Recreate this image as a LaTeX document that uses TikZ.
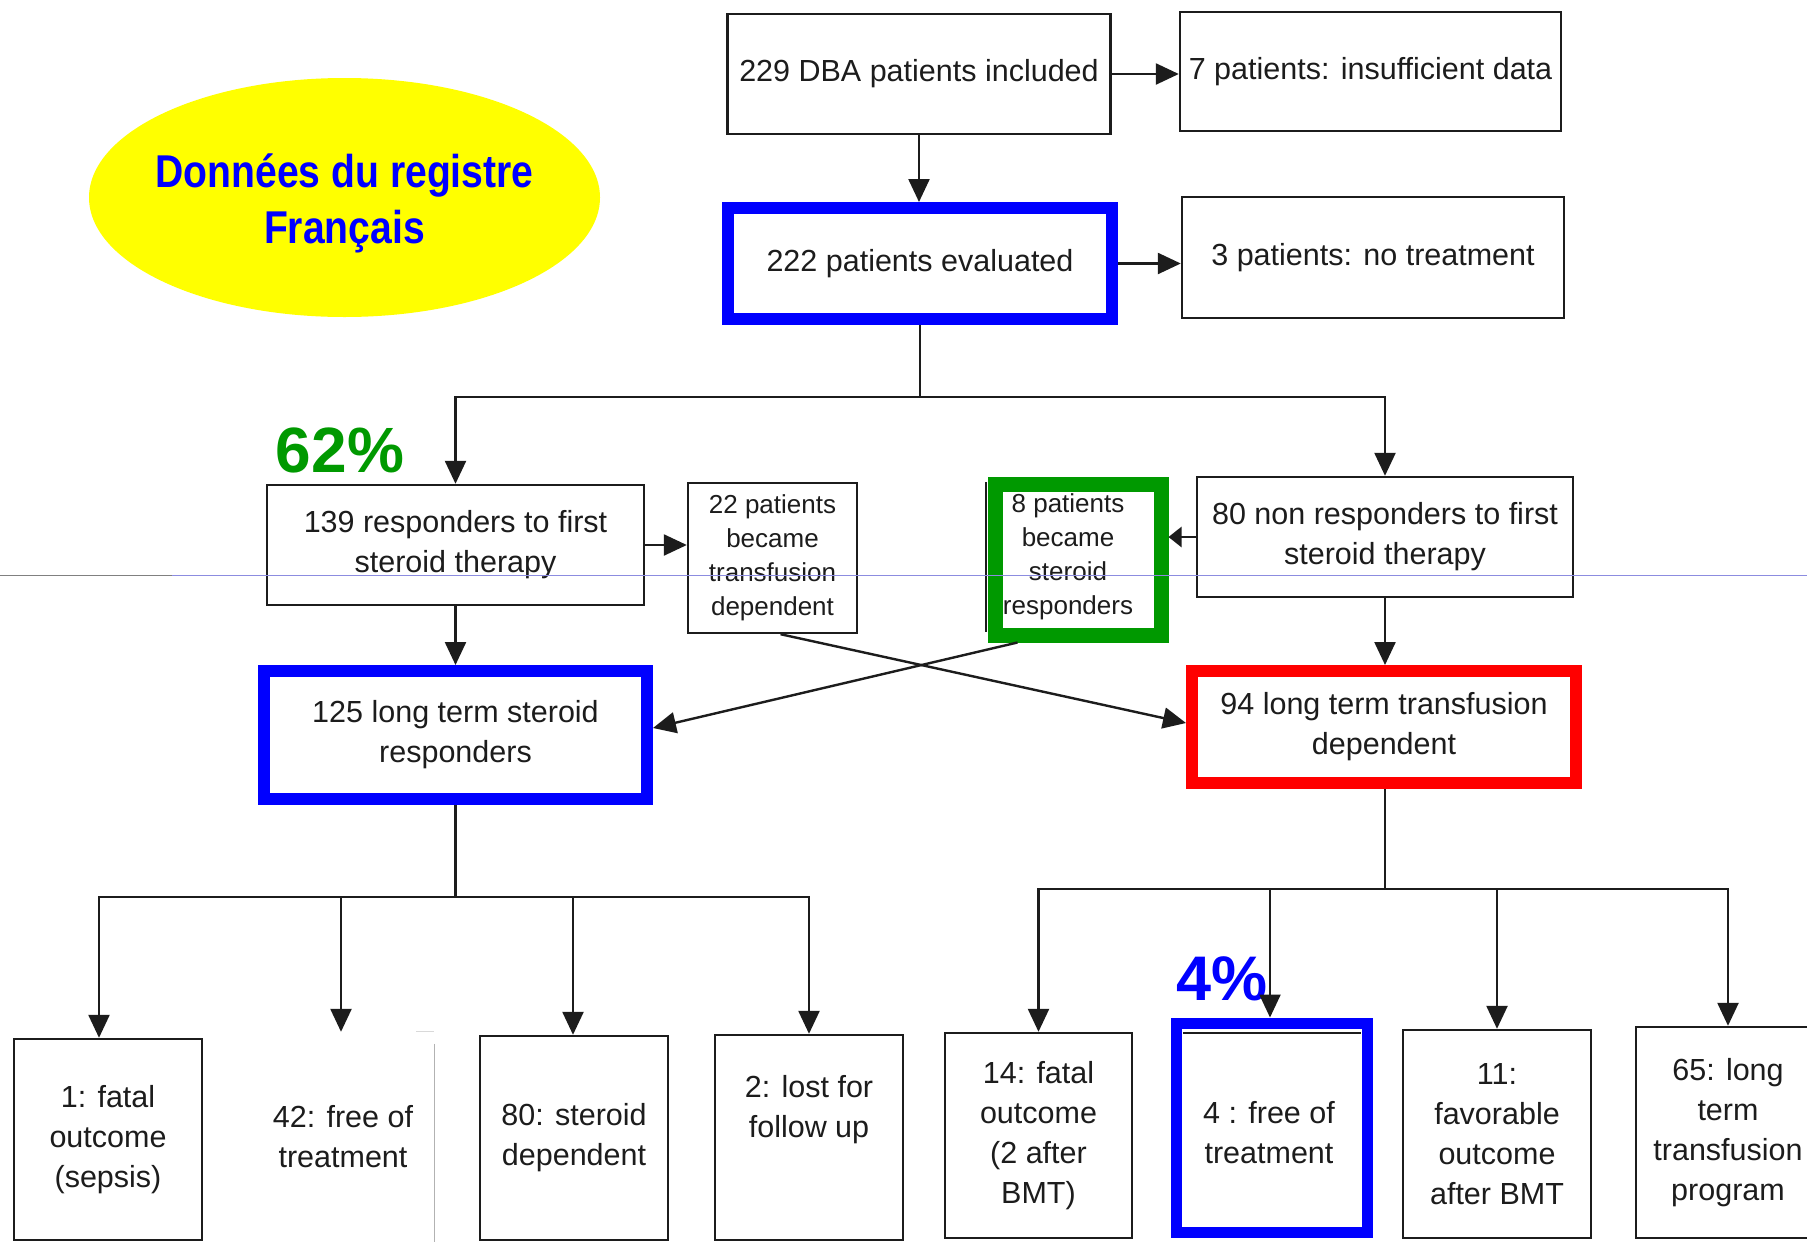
\documentclass[tikz,border=0pt]{standalone}
\usepackage{fontspec}
\setmainfont{Liberation Sans}
\newfontfamily\narrowfont[FakeStretch=0.85]{Liberation Sans}
\usetikzlibrary{arrows.meta,calc,shapes.geometric}
\definecolor{ink}{HTML}{1C1C1C}
\definecolor{bblue}{HTML}{0000FF}
\definecolor{ggreen}{HTML}{009900}
\definecolor{rred}{HTML}{FF0000}
\definecolor{yel}{HTML}{FFFF00}
\definecolor{scanline}{HTML}{8C8CE0}
\begin{document}
\begin{tikzpicture}[x=1pt,y=-1pt,
  box/.style={draw=ink, line width=2.4pt, align=center, inner sep=0pt, text=ink,
    font=\fontsize{30.5}{40}\selectfont},
  smallbox/.style={box, font=\fontsize{26}{34}\selectfont},
  bluebox/.style={draw=bblue, line width=12pt},
  arr/.style={draw=ink, line width=2.4pt, -{Triangle[length=23pt,width=21pt]}},
  shortarr/.style={draw=ink, line width=2.4pt, -{Triangle[length=13pt,width=20pt]}},
  ln/.style={draw=ink, line width=2.4pt},
  pct/.style={anchor=base, font=\bfseries\fontsize{64}{64}\selectfont},
]
\useasboundingbox (0,0) rectangle (1807,1242);
\fill[white] (0,0) rectangle (1807,1242);

% title ellipse
\node[ellipse, fill=yel, draw=none, minimum width=511pt, minimum height=239pt] (ell) at (344.5,197.5) {};
\node[align=center, text=bblue, font=\narrowfont\bfseries\fontsize{46}{56}\selectfont] (title) at (344.5,203) {Donn\'ees du registre\\Fran\c{c}ais};

% top boxes
\node[box, minimum width=383pt, minimum height=120pt] (A) at (919,74) {229 DBA patients included};
\node[box, minimum width=381pt, minimum height=119pt] (B) at (1370.5,71.5) {7 patients: insufficient data};
\node[box, bluebox, minimum width=384pt, minimum height=111pt] (C) at (920,263.5) {222 patients evaluated};
\node[box, minimum width=382pt, minimum height=121pt] (D) at (1373,257.5) {3 patients: no treatment};

% middle
\node[box, minimum width=377pt, minimum height=120pt] (E) at (455.5,545) {139 responders to first\\steroid therapy};
\node[smallbox, minimum width=169pt, minimum height=150pt] (F) at (772.5,558) {22 patients\\became\\transfusion\\dependent};
\draw[ink, line width=2pt] (986,482) -- (986,632);
\node[smallbox, draw=ggreen, line width=15pt, minimum width=166pt, minimum height=151pt] (G) at (1078,559.5) {};
\node[align=center, text=ink, font=\fontsize{26}{34}\selectfont] (Gt) at (1068,557) {8 patients\\became\\steroid\\responders};
\node[box, minimum width=376pt, minimum height=120pt] (H) at (1385,537) {80 non responders to first\\steroid therapy};
\node[box, bluebox, minimum width=383pt, minimum height=128pt] (I) at (455.5,735) {125 long term steroid\\responders};
\node[box, draw=rred, line width=12pt, minimum width=384pt, minimum height=112pt] (J) at (1384,727) {94 long term transfusion\\dependent};

% bottom left
\node[box, minimum width=188pt, minimum height=201pt] (K1) at (108,1139.5) {1: fatal\\outcome\\(sepsis)};
\node[box, draw=none, minimum width=180pt, minimum height=208pt] (K2) at (343,1137) {42: free of\\treatment};
\draw[black!30, line width=1.2pt] ($(K2.north east)+(0,12)$) -- (K2.south east) -- (K2.south west);
\draw[black!15, line width=1pt] ($(K2.north east)+(-18,0)$) -- (K2.north east);
\node[box, minimum width=188pt, minimum height=204pt] (K3) at (574,1138) {80: steroid\\dependent};
\node[box, minimum width=188pt, minimum height=205pt] (K4) at (809,1137.5) {};
\node[align=center, text=ink, font=\fontsize{30.5}{40}\selectfont] (K4t) at (809,1110) {2: lost for\\follow up};

% bottom right
\node[box, minimum width=187pt, minimum height=205pt] (L1) at (1038.5,1135.5) {14: fatal\\outcome\\(2 after\\BMT)};
\draw[ink, line width=2pt] (1183,1033) -- (1361,1033);
\node[box, draw=bblue, line width=11pt, minimum width=191pt, minimum height=209pt] (L2) at (1271.5,1127.5) {};
\node[align=center, text=ink, font=\fontsize{30.5}{40}\selectfont] (L2t) at (1269,1133) {4 : free of\\treatment};
\node[box, minimum width=188pt, minimum height=208pt] (L3) at (1497,1134) {11:\\favorable\\outcome\\after BMT};
\node[box, minimum width=184pt, minimum height=211pt] (L4) at (1728,1132.5) {65: long\\term\\transfusion\\program};

% percentages
\node[pct, text=ggreen] (p62) at (340,472) {62\%};
\node[pct, text=bblue, font=\bfseries\fontsize{63}{63}\selectfont] (p4) at (1222,1000) {4\%};

% connectors
\draw[arr] (A.east) -- (A.east -| B.west);
\draw[arr] (A.south) -- (A.south |- C.north);
\draw[arr] (C.east) -- (C.east -| D.west);
\coordinate (jT) at (920,397);
\draw[ln] (C.south) -- (jT);
\draw[arr] (jT) -| (E.north);
\draw[arr] (jT) -| (H.north);
\draw[arr] (E.east) -- (E.east -| F.west);
\draw[shortarr] (H.west) -- (H.west -| G.east);
\draw[arr] (E.south) -- (I.north);
\draw[arr] (H.south) -- (H.south |- J.north);
\draw[arr] ([xshift=8pt]F.south) -- ([yshift=4pt]J.west);
\draw[arr] ([xshift=30pt]G.south west) -- ([yshift=7pt]I.east);

\coordinate (jL) at (455.5,897);
\draw[ln] (I.south) -- (jL);
\draw[arr] (jL) -| ([xshift=-9pt]K1.north);
\draw[arr] (jL) -| ([xshift=-2pt]K2.north);
\draw[arr] (jL) -| ([xshift=-1pt]K3.north);
\draw[arr] (jL) -| (K4.north);

\coordinate (jR) at (1385,889);
\draw[ln] (J.south -| jR) -- (jR);
\draw[arr] (jR) -| (L1.north);
\draw[arr] (jR) -| ([xshift=-1.5pt]L2.north);
\draw[arr] (jR) -| (L3.north);
\draw[arr] (jR) -| (L4.north);

% scan line
\draw[black!50, line width=1pt] (0,575.5) -- (172,575.5);
\draw[scanline, line width=1pt] (172,575.5) -- (1807,575.5);
\end{tikzpicture}
\end{document}
